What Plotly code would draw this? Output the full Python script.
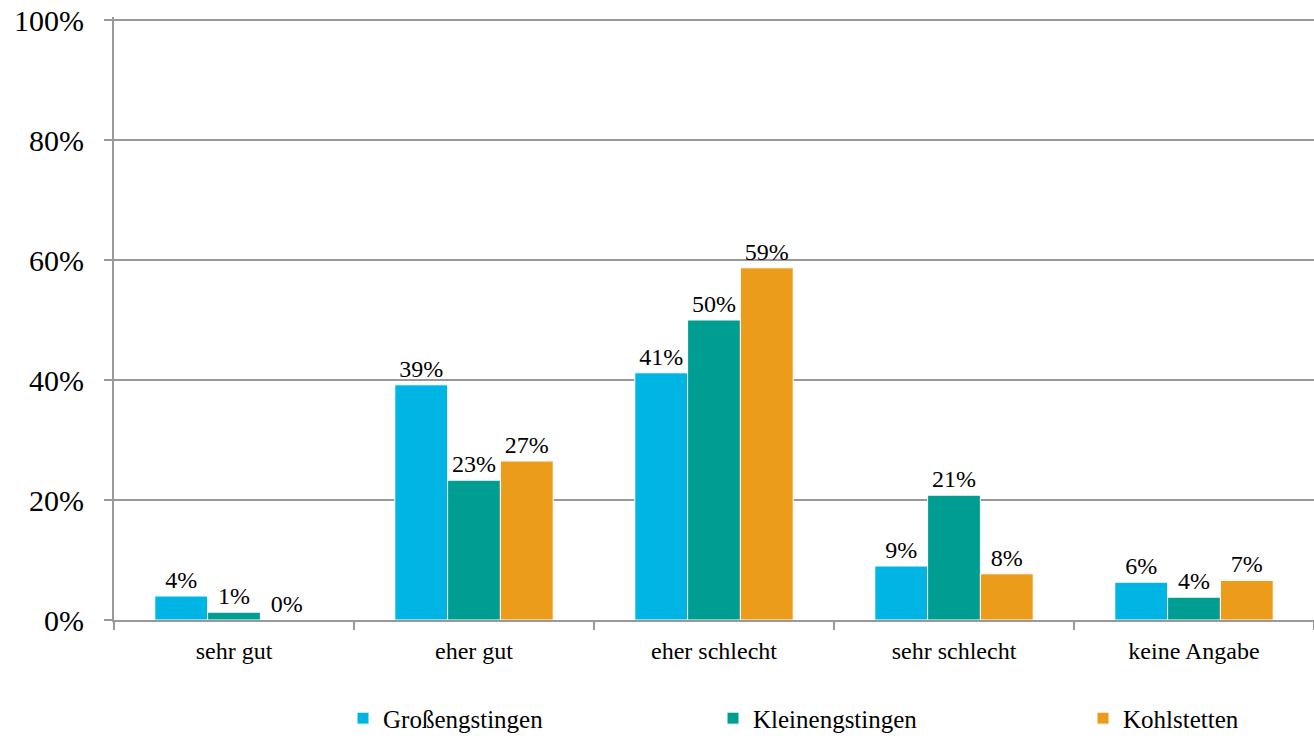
import plotly.graph_objects as go

categories = ["sehr gut", "eher gut", "eher schlecht", "sehr schlecht", "keine Angabe"]
series_names = ["Großengstingen", "Kleinengstingen", "Kohlstetten"]
grossengstingen = [4.0, 39.2, 41.2, 9.0, 6.3]
kleinengstingen = [1.3, 23.3, 50.0, 20.8, 3.8]
kohlstetten = [0.0, 26.5, 58.7, 7.7, 6.6]
colors = ["#00B5E4", "#009E92", "#EB9C1B"]
y_ticks = [0, 20, 40, 60, 80, 100]
y_tick_labels = ["0%", "20%", "40%", "60%", "80%", "100%"]

FONT = "Liberation Serif"
W, H = 1314, 741
ML, MT = 114, 17
PW, PH = 1200, 603
YMAX = 100.5

fig = go.Figure()
for name, vals, col in zip(series_names, [grossengstingen, kleinengstingen, kohlstetten], colors):
    fig.add_trace(go.Bar(
        x=categories, y=vals, name=name,
        marker=dict(color=col, line=dict(color="white", width=1)),
        texttemplate="%{y:.0f}%", textposition="outside",
        textfont=dict(family=FONT, size=24, color="black"),
        cliponaxis=False,
    ))

fig.update_layout(
    width=W, height=H,
    margin=dict(l=ML, r=W - ML - PW, t=MT, b=H - MT - PH, autoexpand=False),
    plot_bgcolor="white", paper_bgcolor="white",
    barmode="group", bargap=0.34, bargroupgap=0.0,
    font=dict(family=FONT, color="black"),
    legend=dict(orientation="h", x=(343 - 114) / PW, xanchor="left", xref="paper",
                y=-0.125, yanchor="top", font=dict(family=FONT, size=25),
                entrywidth=325, entrywidthmode="pixels", traceorder="normal"),
    showlegend=True,
)
fig.update_xaxes(
    showline=True, linecolor="#999999", linewidth=2,
    ticks="outside", tickson="boundaries", ticklen=8, tickcolor="#999999", tickwidth=2,
    tickfont=dict(family=FONT, size=24), showgrid=False, automargin=False,
    ticklabelstandoff=8,
)
fig.update_yaxes(
    range=[0, YMAX], tickvals=y_ticks, ticktext=y_tick_labels,
    showline=True, linecolor="#999999", linewidth=2,
    ticks="outside", ticklen=8, tickcolor="#999999", tickwidth=2,
    showgrid=True, gridcolor="#999999", gridwidth=2,
    tickfont=dict(family=FONT, size=30), zeroline=False, automargin=False,
    ticklabelstandoff=14,
)
fig.write_html("out.html", config={"displayModeBar": False},
               post_script="document.body.style.margin='0';document.body.style.overflow='hidden';")
